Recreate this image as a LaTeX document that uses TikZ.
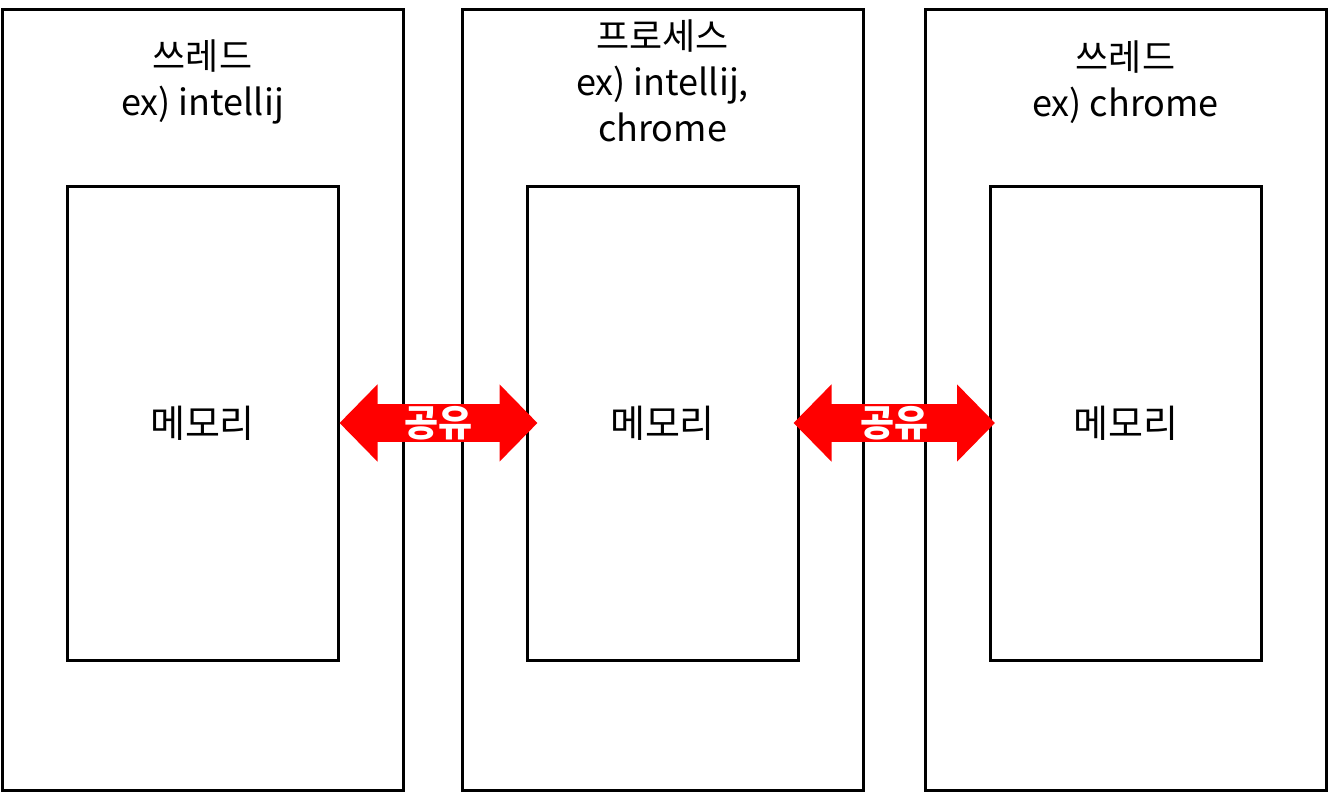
\documentclass[tikz,border=0pt]{standalone}
\usepackage{fontspec}
\setmainfont{Noto Sans CJK KR}
\usetikzlibrary{arrows.meta}

\tikzset{
  outerbox/.style={draw, line width=1.5pt, minimum width=200.5pt, minimum height=390pt},
  memorybox/.style={draw, line width=1.5pt, minimum width=135.5pt, minimum height=237pt,
    font=\fontsize{19pt}{22.5pt}\selectfont},
  titletext/.style={align=center, font=\fontsize{18pt}{23pt}\selectfont},
  sharearrow/.style={red, line width=19pt,
    {Triangle[length=19pt,width=37.5pt]}-{Triangle[length=19pt,width=37.5pt]}},
  sharetext/.style={text=white, font=\fontsize{18.5pt}{20pt}\selectfont\bfseries}
}

\begin{document}
\begin{tikzpicture}[x=0.5pt, y=-0.5pt]
  \useasboundingbox (0,0) rectangle (1328,792);
  % process boxes
  \node[outerbox] (t1) at (202.5,400) {};
  \node[outerbox] (p) at (662.5,400) {};
  \node[outerbox] (t2) at (1125.5,400) {};
  \node[titletext] at (202.5,82) {쓰레드\\ex) intellij};
  \node[titletext] at (662.5,81) {프로세스\\ex) intellij,\\chrome};
  \node[titletext] at (1125.5,82) {쓰레드\\ex) chrome};
  % memory
  \node[memorybox] (m1) at (202.5,423) {메모리};
  \node[memorybox] (m2) at (662.5,423) {메모리};
  \node[memorybox] (m3) at (1126,423) {메모리};
  % sharing
  \draw[sharearrow] (m1.east) -- ([xshift=6pt]m2.west)
    node[midway, sharetext] {공유};
  \draw[sharearrow] ([xshift=-3pt]m2.east) -- ([xshift=3pt]m3.west)
    node[midway, sharetext] {공유};
\end{tikzpicture}
\end{document}
